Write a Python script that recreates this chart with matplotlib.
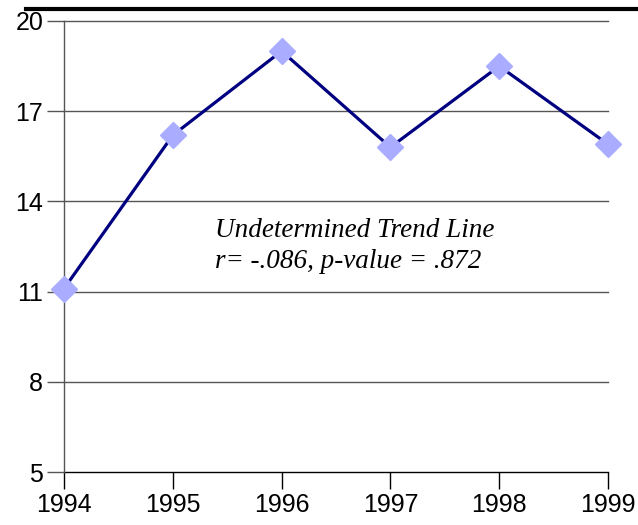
import matplotlib
matplotlib.use("Agg")
import matplotlib.pyplot as plt
from matplotlib.lines import Line2D

years = [1994, 1995, 1996, 1997, 1998, 1999]
values = [11.1, 16.2, 19.0, 15.8, 18.5, 15.9]
yticks = [5, 8, 11, 14, 17, 20]

fig = plt.figure(figsize=(6.38, 5.25), dpi=100)
ax = fig.add_axes([64/638, (525-472)/525, (608-64)/638, (472-21)/525])

for y in yticks:
    ax.axhline(y, color="#000000" if y == 5 else "#555555", lw=1.0, zorder=1, clip_on=False)

ax.plot(years, values, color="#000080", lw=2.3, zorder=3)
ax.plot(years, values, ls="none", marker="D", markersize=13,
        markerfacecolor="#a9acff", markeredgecolor="#a9acff", zorder=4, clip_on=False)

ax.set_xlim(1994, 1999)
ax.set_ylim(5, 20)
ax.set_xticks(years)
ax.set_yticks(yticks)
for s in ["top", "right", "bottom"]:
    ax.spines[s].set_visible(False)
ax.spines["left"].set_color("#555555")
ax.spines["left"].set_linewidth(1.0)
ax.tick_params(axis="y", length=12, width=1.0, color="#555555", labelsize=18, pad=3)
ax.tick_params(axis="x", length=12, width=1.0, color="#000000", labelsize=18, pad=3)
for lab in ax.get_xticklabels() + ax.get_yticklabels():
    lab.set_family("Liberation Sans")

ax.text(1995.39, 12.52, "Undetermined Trend Line\nr= -.086, p-value = .872",
        fontsize=19.5, style="italic", family="Liberation Serif",
        linespacing=1.28, va="center", ha="left")

fig.add_artist(Line2D([26/638, 1.0], [(525-9)/525]*2, color="black", lw=3,
                      transform=fig.transFigure))

fig.savefig("out.png", dpi=100)
